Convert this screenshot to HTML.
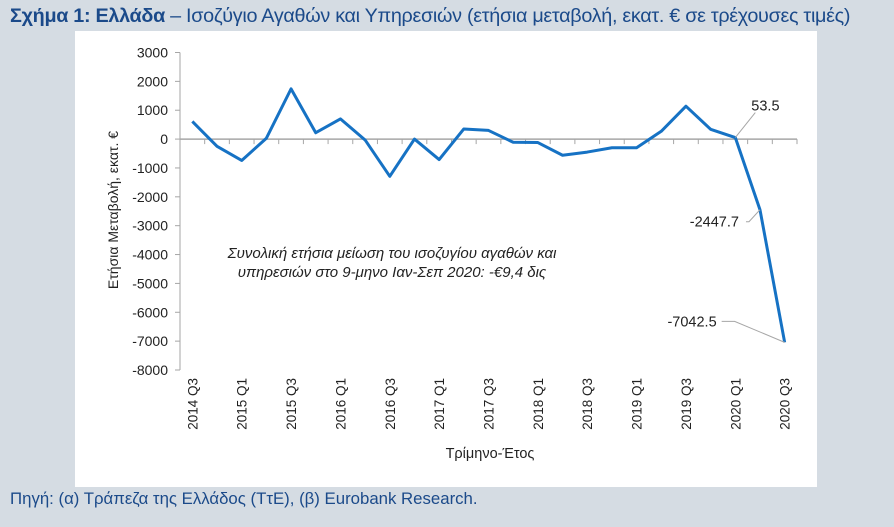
<!DOCTYPE html>
<html><head><meta charset="utf-8"><style>
body{margin:0;width:894px;height:527px;background:#d5dce3;font-family:"Liberation Sans",sans-serif;overflow:hidden;position:relative}
#title{position:absolute;left:10px;top:5px;font-size:19.8px;color:#1b4a8a;white-space:nowrap;letter-spacing:-0.3px}
#panel{position:absolute;left:75px;top:31px;width:742px;height:456px;background:#fff}
#src{position:absolute;left:10px;top:489px;font-size:16.8px;color:#1b4a8a;white-space:nowrap}
svg{position:absolute;left:0;top:0}
</style></head><body>
<div id="title"><b>Σχήμα 1: Ελλάδα</b> – Ισοζύγιο Αγαθών και Υπηρεσιών (ετήσια μεταβολή, εκατ. € σε τρέχουσες τιμές)</div>
<div id="panel"></div>
<div id="src">Πηγή: (α) Τράπεζα της Ελλάδος (ΤτΕ), (β) Eurobank Research.</div>
<svg id="chart" width="894" height="527"></svg>
<script>
const categories=["2014 Q3","2014 Q4","2015 Q1","2015 Q2","2015 Q3","2015 Q4","2016 Q1","2016 Q2","2016 Q3","2016 Q4","2017 Q1","2017 Q2","2017 Q3","2017 Q4","2018 Q1","2018 Q2","2018 Q3","2018 Q4","2019 Q1","2019 Q2","2019 Q3","2019 Q4","2020 Q1","2020 Q2","2020 Q3"];
const values=[610,-250,-740,30,1740,220,700,-30,-1290,0,-710,350,300,-110,-120,-560,-450,-300,-300,270,1140,340,53.5,-2447.7,-7042.5];
const yTicks=[3000,2000,1000,0,-1000,-2000,-3000,-4000,-5000,-6000,-7000,-8000];
const labelled=[22,23,24];
const NS="http://www.w3.org/2000/svg";
const svg=document.getElementById('chart');
const x0=180,x1=797,yTop=52.5,yBot=370,vMax=3000,vMin=-8000;
const bw=(x1-x0)/categories.length;
const X=i=>x0+bw*(i+0.5);
const Y=v=>yTop+(vMax-v)/(vMax-vMin)*(yBot-yTop);
function mk(t,a,p){const e=document.createElementNS(NS,t);for(const k in a)e.setAttribute(k,a[k]);(p||svg).appendChild(e);return e;}
const g=mk('g',{});


mk('line',{x1:x0,x2:x0,y1:yTop,y2:yBot,stroke:'#a6a6a6','stroke-width':1},g);
yTicks.forEach(v=>{
 mk('line',{x1:x0-5,x2:x0,y1:Y(v),y2:Y(v),stroke:'#a6a6a6'},g);
 const t=mk('text',{x:x0-12,y:Y(v)+5,'text-anchor':'end','font-size':14,fill:'#222'},g);
 
 
 t.textContent=v;
});
const xa=mk('g',{});


mk('line',{x1:x0,x2:x1,y1:Y(0),y2:Y(0),stroke:'#a6a6a6','stroke-width':1.5},xa);
categories.forEach((c,i)=>{
 mk('line',{x1:x0+bw*(i+1),x2:x0+bw*(i+1),y1:Y(0),y2:Y(0)+5,stroke:'#a6a6a6'},xa);
 if(i%2===0){
  const t=mk('text',{transform:`translate(${X(i)+5},${yBot+8}) rotate(-90)`,'text-anchor':'end','font-size':13.5,fill:'#222'},xa);
  
  
  t.textContent=c;
 }
});
const pl=mk('polyline',{points:values.map((v,i)=>X(i)+','+Y(v)).join(' '),fill:'none',stroke:'#1672c4','stroke-width':3,'stroke-linejoin':'round'});


// label geometry: [leader points relative to point], text offset
const geo=[
 {pts:[[0,0],[20,-25]],tx:16,ty:-27,anchor:'start'},
 {pts:[[0,0],[-11,12],[-14,12]],tx:-21,ty:17,anchor:'end'},
 {pts:[[0,0],[-50,-21],[-63,-21]],tx:-68,ty:-16,anchor:'end'}
];
labelled.forEach((idx,k)=>{
 const px=X(idx),py=Y(values[idx]);const o=geo[k];
 mk('polyline',{points:o.pts.map(p=>(px+p[0])+','+(py+p[1])).join(' '),fill:'none',stroke:'#a6a6a6'});
 const t=mk('text',{x:px+o.tx,y:py+o.ty,'text-anchor':o.anchor,'font-size':14.5,fill:'#222'});
 
 
 t.textContent=values[idx];
});
const ann=mk('text',{x:392,y:258,'text-anchor':'middle','font-size':15,'font-style':'italic',fill:'#222'});


mk('tspan',{x:392,dy:0},ann).textContent='Συνολική ετήσια μείωση του ισοζυγίου αγαθών και';
mk('tspan',{x:392,dy:19},ann).textContent='υπηρεσιών στο 9-μηνο Ιαν-Σεπ 2020: -€9,4 δις';
const yt=mk('text',{transform:'translate(118,210) rotate(-90)','text-anchor':'middle','font-size':14,fill:'#222'});


yt.textContent='Ετήσια Μεταβολή, εκατ. €';
const xt=mk('text',{x:490,y:458,'text-anchor':'middle','font-size':14.5,fill:'#222'});


xt.textContent='Τρίμηνο-Έτος';
</script>
</body></html>
